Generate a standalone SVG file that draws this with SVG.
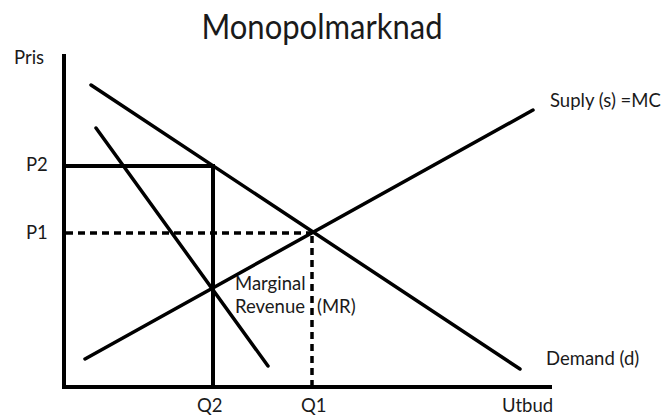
<svg xmlns="http://www.w3.org/2000/svg" width="663" height="416" viewBox="0 0 663 416">
<style>
text{font-family:Lato,"Liberation Sans",sans-serif;fill:#1a1a1a;font-size:18.5px}
.t{font-size:34px}
.ln{stroke:#000;stroke-width:3.5;fill:none;stroke-linecap:round}
.ax{stroke:#000;stroke-width:4;fill:none}
.d{stroke:#000;stroke-width:3.5;fill:none;stroke-dasharray:7 5}
</style>
<rect width="663" height="416" fill="#fff"/>
<text class="t" x="322" y="39" text-anchor="middle" textLength="241" lengthAdjust="spacingAndGlyphs">Monopolmarknad</text>
<g id="axes">
<path class="ax" d="M64,54 V387 H552"/>
<text x="14" y="64">Pris</text>
<text x="502" y="412">Utbud</text>
</g>
<g id="connectors">
<path class="ln" d="M91,85 L520,369"/>
<path class="ln" d="M85,359 L533,110"/>
<path class="ln" d="M96,128 L268,366"/>
<path class="ax" d="M64,166 H213 V387"/>
<path class="d" d="M66,233 H312"/>
<path class="d" d="M312,236 V386"/>
</g>
<g id="labels">
<text x="26" y="171">P2</text>
<text x="26" y="239">P1</text>
<text x="197" y="412">Q2</text>
<text x="301" y="412">Q1</text>
<text x="550" y="107">Suply (s) =MC</text>
<text x="546" y="365">Demand (d)</text>
<text x="235" y="290">Marginal</text>
<text x="235" y="313">Revenue</text>
<text x="317" y="313">(MR)</text>
</g>
</svg>
